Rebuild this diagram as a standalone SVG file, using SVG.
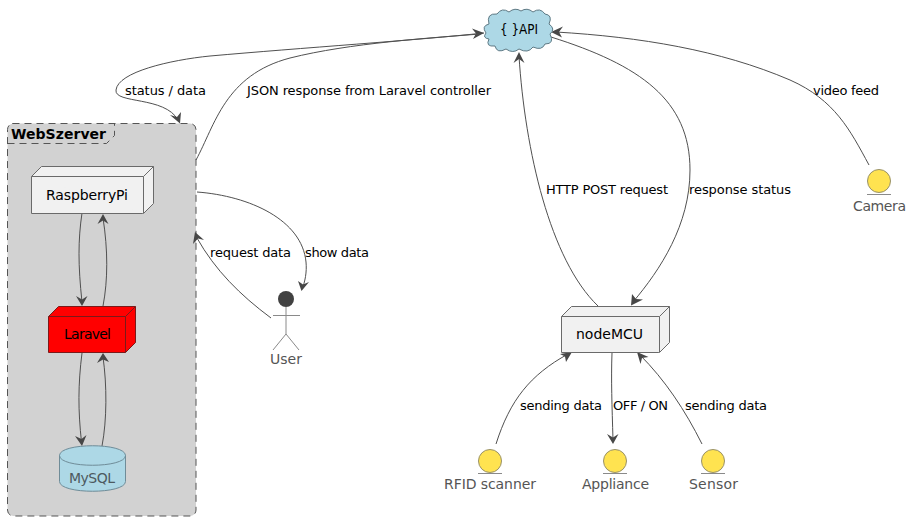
<svg xmlns="http://www.w3.org/2000/svg" width="911" height="520" viewBox="0 0 911 520">
<style>
text{font-family:"DejaVu Sans",sans-serif;font-size:13px;fill:#000}
.n{font-size:14px}
.g{font-size:14px;fill:#555}
.c{fill:none;stroke:#505050;stroke-width:1}
.a{fill:#474747;stroke:none}
.box{fill:#f1f1f1;stroke:#6a6a6a;stroke-width:1}
.iface{fill:#ffe350;stroke:#98916a;stroke-width:1}
.ul{stroke:#8a8a8a;stroke-width:1}
</style>
<rect width="911" height="520" fill="#fff"/>
<g id="WebSzerver">
<path d="M12.500 123.500H190a6 6 0 0 1 6 6V510a6 6 0 0 1-6 6H13.500a6 6 0 0 1-6-6V129.500a6 6 0 0 1 6-6z" fill="#d2d2d2" stroke="#555" stroke-width="1" stroke-dasharray="7,5"/>
<path d="M7.500 143.500H106.500L114.500 135.500V123.500" fill="none" stroke="#555" stroke-dasharray="7,5"/>
<text x="11" y="139" style="font-size:14px;font-weight:bold" textLength="95">WebSzerver</text>
</g>
<g id="connectors">
<path class="c" d="M484 33C420 40 300 48 210 56C170 60 118 72 116 90C114 104 165 96 178 120"/>
<path class="a" d="M180 123.500L170 115L177 117L181 112Z"/>
<path class="a" d="M484 33L472 28.500L476 33.500L473 39Z"/>
<path class="c" d="M196 160C215 125 225 75 290 58C350 43 430 38 480 34"/>
<path class="c" d="M197 192C250 196 302 220 306 262C307 272 305 282 302 289"/>
<path class="a" d="M301.500 291L298 281L303 284.500L309 282Z"/>
<path class="c" d="M271 318C240 295 215 270 197 238"/>
<path class="a" d="M195 232L193 244L198 238.500L204 240Z"/>
<path class="c" d="M82 213C78 240 78 265 82 302"/>
<path class="a" d="M82 306L76 296L82 299.500L87.500 296Z"/>
<path class="c" d="M103 306C108 280 108 250 103 218"/>
<path class="a" d="M103 214L97.500 224L103 220.500L108.500 224Z"/>
<path class="c" d="M82 353C78 385 78 410 81.500 442"/>
<path class="a" d="M82 446L75 436L81.500 439L86.500 435Z"/>
<path class="c" d="M102 446C107 420 107 385 103 357"/>
<path class="a" d="M103 353L97 363L103 359.500L109 362Z"/>
<path class="c" d="M598 306C550 260 525 150 519 56"/>
<path class="a" d="M519 52L513.500 63L519 59L524.500 63Z"/>
<path class="c" d="M551 37C640 65 690 100 690 170C690 225 660 270 633 302"/>
<path class="a" d="M631 305.500L632 294L636 299L643 299.500Z"/>
<path class="c" d="M612 353C611 380 612 405 613 440"/>
<path class="a" d="M613 444L607 434L613 437.500L618.500 434Z"/>
<path class="c" d="M496 444C510 400 530 375 568 354"/>
<path class="a" d="M572 352L560 354L565 356.500L566 362Z"/>
<path class="c" d="M702 444C685 410 665 380 640 355"/>
<path class="a" d="M637 352L648.500 357L642 358L640.500 364Z"/>
<path class="c" d="M869 165C850 130 835 100 790 80C720 50 640 37 556 32"/>
<path class="a" d="M551 32L563 26.500L559 32L562 37.500Z"/>
</g>
<g id="API">
<path d="M486 33Q481 26 489 24Q486 13 497 14Q502 7 509 12Q515 7 521 11Q527 7 533 12Q540 7 545 14Q553 15 549 24Q556 29 550 34Q555 44 545 44Q542 51 533 47Q528 54 519 49Q513 54 506 49Q497 54 495 46Q485 47 489 39Q482 38 486 33Z" fill="#add8e6" stroke="#5f7a85" stroke-width="1"/>
<text x="500" y="34" style="font-size:14px" textLength="38" lengthAdjust="spacingAndGlyphs">{ }API</text>
</g>
<g id="RaspberryPi">
<path class="box" d="M31.500 176.500L41.500 166.500H153.500V203.500L143.500 213.500H31.500Z"/>
<path class="box" d="M31.500 176.500H143.500V213.500M143.500 176.500L153.500 166.500" fill="none"/>
<text class="n" x="46" y="200" textLength="82">RaspberryPi</text>
</g>
<g id="Laravel">
<path d="M48.500 316.500L58.500 306.500H135.500V342.500L125.500 352.500H48.500Z" fill="#f00" stroke="#7a1a1a"/>
<path d="M48.500 316.500H125.500V352.500M125.500 316.500L135.500 306.500" fill="none" stroke="#7a1a1a"/>
<text class="n" x="64" y="339" textLength="47">Laravel</text>
</g>
<g id="MySQL">
<path d="M59.500 455.500C59.500 442.500 125.500 442.500 125.500 455.500V481.500C125.500 494.500 59.500 494.500 59.500 481.500Z" fill="#add8e6" stroke="#6f8c98"/>
<path d="M59.500 455.500C59.500 468.500 125.500 468.500 125.500 455.500" fill="none" stroke="#6f8c98"/>
<text x="69" y="483" style="font-size:14px;fill:#4d5a60" textLength="46">MySQL</text>
</g>
<g id="User">
<circle cx="286" cy="299" r="8" fill="#414141"/>
<path d="M286 307V334M273 315.500H300M286 334L273 350M286 334L299 350" fill="none" stroke="#8a8a8a"/>
<text class="g" x="270" y="364" textLength="32">User</text>
</g>
<g id="nodeMCU">
<path class="box" d="M561.500 316.500L571.500 306.500H669.500V342.500L659.500 352.500H561.500Z"/>
<path class="box" d="M561.500 316.500H659.500V352.500M659.500 316.500L669.500 306.500" fill="none"/>
<text class="n" x="576" y="339" textLength="67">nodeMCU</text>
</g>
<g id="RFID">
<circle class="iface" cx="490" cy="461" r="11.500"/>
<path class="ul" d="M478 473.500H502"/>
<text class="g" x="444" y="489" textLength="92">RFID scanner</text>
</g>
<g id="Appliance">
<circle class="iface" cx="615" cy="461" r="11.500"/>
<path class="ul" d="M603 473.500H627"/>
<text class="g" x="582" y="489" textLength="67">Appliance</text>
</g>
<g id="Sensor">
<circle class="iface" cx="713" cy="461" r="11.500"/>
<path class="ul" d="M701 473.500H725"/>
<text class="g" x="689" y="489" textLength="49">Sensor</text>
</g>
<g id="Camera">
<circle class="iface" cx="879" cy="181" r="11.500"/>
<path class="ul" d="M867 194.500H891"/>
<text class="g" x="853" y="211" textLength="53">Camera</text>
</g>
<g id="labels">
<text x="125" y="95" textLength="81">status / data</text>
<text x="247" y="95" textLength="244">JSON response from Laravel controller</text>
<text x="813" y="95" textLength="66">video feed</text>
<text x="546" y="194" textLength="122">HTTP POST request</text>
<text x="689" y="194" textLength="102">response status</text>
<text x="210" y="257" textLength="81">request data</text>
<text x="305" y="257" textLength="64">show data</text>
<text x="520" y="410" textLength="82">sending data</text>
<text x="613" y="410" textLength="55">OFF / ON</text>
<text x="685" y="410" textLength="82">sending data</text>
</g>
</svg>
